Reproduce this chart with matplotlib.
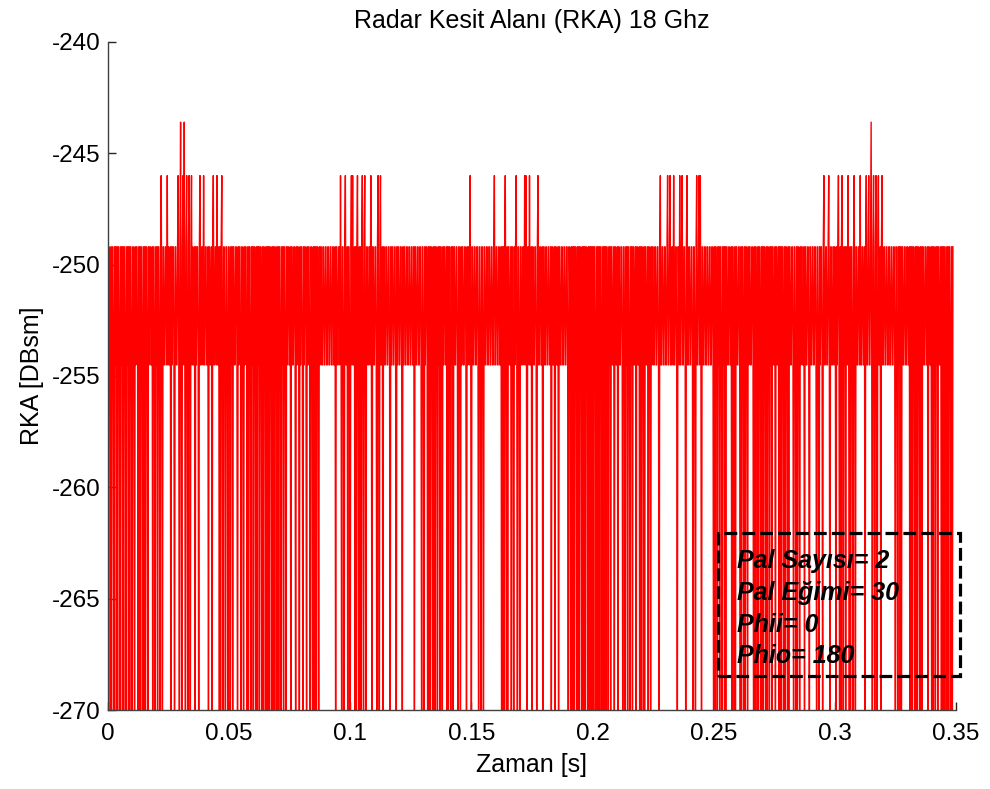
import numpy as np
import matplotlib.pyplot as plt
from matplotlib.patches import Rectangle

plt.rcParams['font.family'] = ['Liberation Sans', 'DejaVu Sans']
plt.rcParams['axes.unicode_minus'] = False

# RKA levels (DBsm), coded per sample
levels = {'0': -275.0, '1': -249.2, '2': -254.5, '3': -246.0, '4': -243.6}
dt = 0.00025  # sample step [s]

# one row = 100 samples (0.025 s)
rows = [
    "01120101120121010112" "01210101120121010112" "01120121120101011201" "01011201211221011201" "21011201320112211232",
    "12210121120112213201" "42013242013201320132" "12210121120132211232" "21122101122101322112" "32210101320112011201",
    "12012101122112012112" "01120121120101120121" "01120101210112010112" "01010101120101011201" "01011201210112012112",
    "21011221120121120121" "12012112012112011201" "01010112012112211221" "12211221122112210112" "21123201120132210112",
    "01323221010132010101" "32013201122112320112" "21120132013221011221" "12211201211221120121" "12211201211221122112",
    "21122101122112211201" "12012112010101120101" "01120121011201211221" "01011201210112211201" "12012112211201211232",
    "01122112211201120112" "01122112211221122132" "21122112210101013201" "01122101120121320112" "01122112323201123221",
    "01122112013221122101" "12211221122101122101" "12210112211221122112" "01120101010112010101" "12010101011201010101",
    "01011201010101120101" "01011201210112210112" "21011221120112012101" "12012101122101122101" "01120101122101120121",
    "12211221120132211221" "12213221322112322112" "01123221322112013221" "12211201120132213232" "01122112211221122112",
    "01011201210112012101" "01122112210112010112" "21120101120101120121" "12211201011201011201" "01011201011201210112",
    "21011221010101120101" "12010112211201120101" "12012112210112211201" "12211221120112012112" "01322112213201122112",
    "12012132010132012101" "12320101120132011221" "12322112210132213221" "42013201320132210132" "21122112211221122112",
    "01120121010112211221" "12210101011201010112" "01010112211221011221" "01011201210112210101" "0112010101120101",
]

codes = "".join(rows)
rka = np.array([levels[c] for c in codes])
zaman = np.arange(len(rka)) * dt

info_lines = ["Pal Sayısı= 2", "Pal Eğimi= 30", "Phii= 0", "Phio= 180"]

fig = plt.figure(figsize=(9.9, 7.89), dpi=100)
ax = fig.add_axes([0.109, 0.1001, 0.8566, 0.8467])

ax.plot(zaman, rka, color='red', linewidth=1.0)

ax.set_xlim(0, 0.35)
ax.set_ylim(-270, -240)
xt = [0, 0.05, 0.1, 0.15, 0.2, 0.25, 0.3, 0.35]
ax.set_xticks(xt)
ax.set_xticklabels(["0", "0.05", "0.1", "0.15", "0.2", "0.25", "0.3", "0.35"])
ax.set_yticks(np.arange(-270, -239, 5))

for s in ['top', 'right']:
    ax.spines[s].set_visible(False)
for s in ['left', 'bottom']:
    ax.spines[s].set_color('#404040')
    ax.spines[s].set_linewidth(1.0)
ax.tick_params(direction='in', length=6, width=1.0, colors='#262626',
               labelcolor='black', labelsize=17.5, pad=5)
ax.tick_params(axis='x', pad=9)

ax.set_title("Radar Kesit Alanı (RKA) 18 Ghz", fontsize=18, pad=10)
ax.set_xlabel("Zaman [s]", fontsize=18, labelpad=6)
ax.set_ylabel("RKA [DBsm]", fontsize=18, labelpad=6)

# dashed info box
box = Rectangle((0.2518, -268.47), 0.0998, 6.42, fill=False, edgecolor='black',
                linewidth=2.3, linestyle=(0, (4, 1.6)), clip_on=False, zorder=5)
ax.add_patch(box)
ax.text(0.2595, -265.45, "\n".join(info_lines), fontsize=18, fontweight='bold',
        fontstyle='italic', va='center', ha='left', linespacing=1.4, zorder=6)

fig.savefig("out.png", dpi=100)
